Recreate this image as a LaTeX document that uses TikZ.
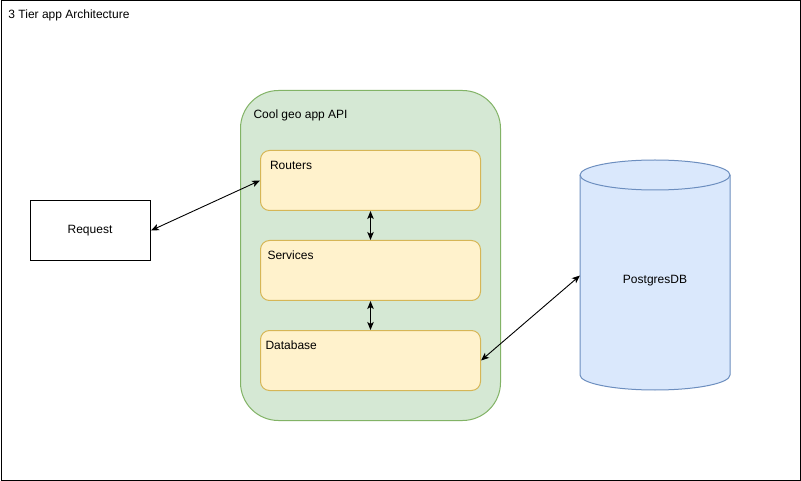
\documentclass[tikz,border=0pt]{standalone}
\usepackage{fontspec}
\setmainfont{Liberation Sans}
\usetikzlibrary{arrows.meta}
\definecolor{gfill}{HTML}{D5E8D4}
\definecolor{gline}{HTML}{82B366}
\definecolor{yfill}{HTML}{FFF2CC}
\definecolor{yline}{HTML}{D6B656}
\definecolor{bfill}{HTML}{DAE8FC}
\definecolor{bline}{HTML}{6C8EBF}
\begin{document}
\begin{tikzpicture}[x=1pt,y=-1pt,line width=1pt,
  every node/.style={font=\fontsize{12}{14}\selectfont,inner sep=0pt},
  frame/.style={draw=black,fill=white,minimum width=799pt,minimum height=479pt,anchor=north west},
  container/.style={draw=gline,fill=gfill,rounded corners=38pt,minimum width=260pt,minimum height=330pt,anchor=north west},
  layer/.style={draw=yline,fill=yfill,rounded corners=9pt,minimum width=220pt,minimum height=60pt,anchor=north west},
  plainbox/.style={draw=black,fill=white,minimum width=120pt,minimum height=60pt,anchor=north west},
  lbl/.style={anchor=west},
  cyl/.style={draw=bline,fill=bfill},
  link/.style={{Stealth[length=8pt,width=6.5pt,inset=2pt]}-{Stealth[length=8pt,width=6.5pt,inset=2pt]},line width=0.9pt}
]
\useasboundingbox (0,0) rectangle (801,481);
\node[frame] (frame) at (0.5,0.5) {};
\node[lbl] (title) at (8,15.5) {3 Tier app Architecture};

% container
\node[container] (api) at (240,90) {};
\node[lbl] (apilabel) at (253,115.5) {Cool geo app API};

% layers
\node[layer] (routers) at (260,150) {};
\node[lbl] (routerslabel) at (269.5,165) {Routers};
\node[layer] (services) at (260,240) {};
\node[lbl] (serviceslabel) at (267,255) {Services};
\node[layer] (database) at (260,330) {};
\node[lbl] (databaselabel) at (265,345) {Database};

% request
\node[plainbox] (request) at (30,200) {};
\node (requestlabel) at (90,230.5) {Request};

% cylinder
\path[cyl] (580,175) -- (580,375)
  arc[start angle=180,end angle=360,x radius=75pt,y radius=15pt]
  -- (730,175)
  arc[start angle=0,end angle=180,x radius=75pt,y radius=15pt] -- cycle;
\draw[bline] (580,175) arc[start angle=180,end angle=360,x radius=75pt,y radius=15pt];
\node[minimum width=150pt,minimum height=230pt,anchor=north west] (db) at (580,160) {};
\node (dblabel) at (655,280.5) {PostgresDB};

% connectors
\draw[link] (request.east) -- (routers.west);
\draw[link] (routers.south) -- (services.north);
\draw[link] (services.south) -- (database.north);
\draw[link] (database.east) -- (db.west);
\end{tikzpicture}
\end{document}
